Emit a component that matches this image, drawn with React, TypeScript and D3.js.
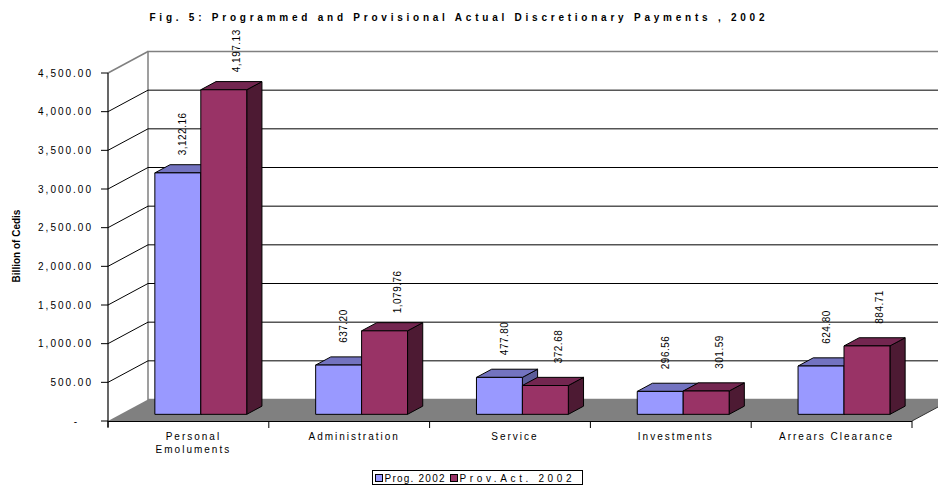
import React from 'react';
import * as d3 from 'd3';

const categories = ['Personal Emoluments', 'Administration', 'Service', 'Investments', 'Arrears Clearance'];
const categoryLines = [['Personal', 'Emoluments'], ['Administration'], ['Service'], ['Investments'], ['Arrears Clearance']];
const seriesNames = ['Prog. 2002', 'Prov.Act. 2002'];
const prog = [3122.16, 637.2, 477.8, 296.56, 624.8];
const provAct = [4197.13, 1079.76, 372.68, 301.59, 884.71];
const yTicks = [0, 500, 1000, 1500, 2000, 2500, 3000, 3500, 4000, 4500];
const title = 'Fig. 5:  Programmed and Provisional Actual Discretionary Payments , 2002';
const yTitle = 'Billion of Cedis';

const seriesColors = [
  { front: '#9999FF', top: '#7373C0', side: '#5C5C99' },
  { front: '#993366', top: '#732650', side: '#4D1A33' },
];

const W = 938;
const H = 486;
const X0 = 108;
const X1 = 912;
const Y0 = 421;
const Y1 = 73;
const DX = 40;
const DY = -21.5;
const Z0 = 0.31;
const Z1 = 0.69;
const FONT = 'Arial, "Liberation Sans", Helvetica, sans-serif';

const fmt = (v: number) => (v === 0 ? '-' : d3.format(',.2f')(v));

export default function App() {
  const x = d3.scaleBand<string>().domain(categories).range([X0, X1]).padding(0);
  const xs = d3.scaleBand<string>().domain(seriesNames).range([0, x.bandwidth()]).paddingInner(0).paddingOuter(0.75);
  const y = d3.scaleLinear().domain([0, 4500]).range([Y0, Y1]);
  const seriesValues = [prog, provAct];

  const P = (px: number, py: number, z: number): [number, number] => [px + z * DX, py + z * DY];
  const pts = (arr: [number, number][]) => arr.map((p) => p.join(',')).join(' ');

  const backX0 = X0 + DX;
  const backX1 = X1 + DX;
  const backTop = Y1 + DY;
  const backBottom = Y0 + DY;

  const bars: React.ReactNode[] = [];
  const labels: React.ReactNode[] = [];
  categories.forEach((c, ci) => {
    seriesNames.forEach((s, si) => {
      const v = seriesValues[si][ci];
      const bx0 = (x(c) as number) + (xs(s) as number);
      const bx1 = bx0 + xs.bandwidth();
      const yt = y(v);
      const yb = y(0);
      const col = seriesColors[si];
      const f0 = P(bx0, yt, Z0), f1 = P(bx1, yt, Z0), f2 = P(bx1, yb, Z0), f3 = P(bx0, yb, Z0);
      const b0 = P(bx0, yt, Z1), b1 = P(bx1, yt, Z1), b2 = P(bx1, yb, Z1);
      bars.push(
        <g key={`${ci}-${si}`} stroke="#000" strokeWidth={1} strokeLinejoin="round">
          <polygon points={pts([f1, b1, b2, f2])} fill={col.side} />
          <polygon points={pts([f0, b0, b1, f1])} fill={col.top} />
          <polygon points={pts([f0, f1, f2, f3])} fill={col.front} />
        </g>
      );
      const cx = (f0[0] + f1[0]) / 2 + 5 + 8 * si;
      const cy = f0[1] - 39;
      labels.push(
        <text
          key={`l${ci}-${si}`}
          transform={`translate(${cx},${cy}) rotate(-90)`}
          textAnchor="middle"
          dominantBaseline="central"
          fontSize={10}
          letterSpacing={0.5}
          fill="#000"
        >
          {fmt(v)}
        </text>
      );
    });
  });

  return (
    <svg width={W} height={H} style={{ position: 'absolute', left: 0, top: 0, background: '#fff' }} fontFamily={FONT}>
      <rect x={0} y={0} width={W} height={H} fill="#fff" />
      {/* title */}
      <text x={457} y={21} textAnchor="middle" fontSize={10} fontWeight="bold" textLength={615} lengthAdjust="spacing">
        {title}
      </text>
      {/* back wall */}
      <rect x={backX0} y={backTop} width={backX1 - backX0} height={backBottom - backTop} fill="#fff" stroke="#808080" strokeWidth={1.5} />
      {/* gridlines */}
      {yTicks.filter((t) => t > 0 && t < 4500).map((t) => {
        const a = P(X0, y(t), 0);
        const b = P(X0, y(t), 1);
        const e = P(X1, y(t), 1);
        return (
          <g key={`g${t}`} stroke="#000" strokeWidth={1}>
            <line x1={a[0]} y1={a[1]} x2={b[0]} y2={b[1]} />
            <line x1={b[0]} y1={b[1]} x2={e[0]} y2={e[1]} />
          </g>
        );
      })}
      {/* left wall top edge */}
      <line x1={X0} y1={y(4500)} x2={X0 + DX} y2={y(4500) + DY} stroke="#808080" strokeWidth={1.5} />
      {/* floor */}
      <polygon points={pts([P(X0, Y0, 0), P(X0, Y0, 1), P(X1, Y0, 1), P(X1, Y0, 0)])} fill="#808080" />
      <line x1={X1} y1={Y0} x2={X1 + DX} y2={Y0 + DY} stroke="#333" strokeWidth={1} />
      {bars}
      {labels}
      {/* axes */}
      <line x1={X0} y1={Y1} x2={X0} y2={Y0 + 6} stroke="#000" strokeWidth={1.2} />
      <line x1={X0} y1={Y0 + 0.5} x2={X1} y2={Y0 + 0.5} stroke="#000" strokeWidth={1.2} />
      {yTicks.map((t) => (
        <g key={`t${t}`}>
          <line x1={X0 - 7} y1={y(t)} x2={X0} y2={y(t)} stroke="#000" strokeWidth={1} />
          <text
            x={t === 0 ? 79 : 93}
            y={y(t)}
            dy="0.35em"
            textAnchor="end"
            fontSize={10}
            letterSpacing={2}
            fill="#000"
          >
            {fmt(t)}
          </text>
        </g>
      ))}
      {categories.map((c, i) => (
        <line key={`xt${i}`} x1={x(c) as number} y1={Y0} x2={x(c) as number} y2={Y0 + 7} stroke="#000" strokeWidth={1} />
      ))}
      <line x1={X1} y1={Y0} x2={X1} y2={Y0 + 7} stroke="#000" strokeWidth={1} />
      {categories.map((c, i) => (
        <text key={`xl${i}`} textAnchor="middle" fontSize={10} letterSpacing={2} fill="#000">
          {categoryLines[i].map((ln, j) => (
            <tspan key={j} x={(x(c) as number) + x.bandwidth() / 2 + 5} y={440 + j * 13}>
              {ln}
            </tspan>
          ))}
        </text>
      ))}
      {/* y title */}
      <text transform={`translate(16,246) rotate(-90)`} textAnchor="middle" dominantBaseline="central" fontSize={10} fontWeight="bold">
        {yTitle}
      </text>
      {/* legend */}
      <rect x={372.5} y={470.5} width={210} height={14} fill="#fff" stroke="#000" strokeWidth={1} />
      {seriesNames.map((s, i) => {
        const lx = i === 0 ? 375.5 : 450.5;
        return (
          <g key={`lg${i}`}>
            <rect x={lx} y={474.5} width={7} height={7} fill={seriesColors[i].front} stroke="#000" strokeWidth={1} />
            <text x={lx + 9} y={481.5} fontSize={10} textLength={i === 0 ? 60 : 112} lengthAdjust="spacing" fill="#000">
              {s}
            </text>
          </g>
        );
      })}
    </svg>
  );
}
